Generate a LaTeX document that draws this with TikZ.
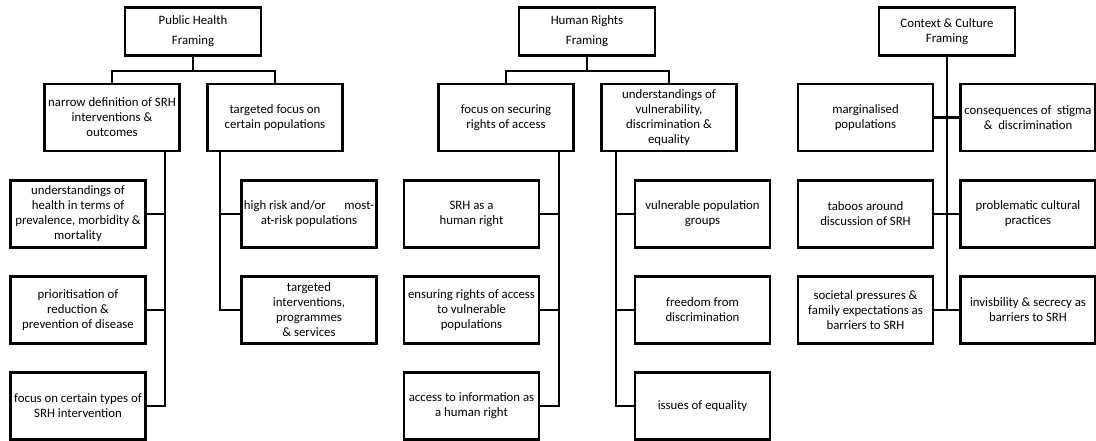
\documentclass[tikz,border=0pt]{standalone}
\usepackage{fontspec}
\setmainfont{Carlito}
\usepackage{tikz}
\usetikzlibrary{positioning,calc}

\begin{document}
\begin{tikzpicture}[x=1pt,y=-1pt,
  frame/.style={draw,line width=2.4pt,minimum width=135pt,minimum height=67pt,
    align=center,inner sep=0pt,font=\fontsize{12.8}{15}\selectfont},
  topframe/.style={frame,minimum width=136pt,minimum height=48pt},
  link/.style={line width=2.2pt}]
\useasboundingbox (0,0) rectangle (1096,441);

% Public Health framing
\node[topframe] (ph) at (193,31.5) {Public Health\\[5pt]Framing};
\node[frame] (ph1) at (112,117.5) {narrow definition of SRH\\interventions \&\\outcomes};
\node[frame] (ph2) at (275,117.5) {targeted focus on\\certain populations};
\node[frame] (ph11) at (78,214) {understandings of\\health in terms of\\prevalence, morbidity \&\\mortality};
\node[frame] (ph12) at (78,310) {prioritisation of\\reduction \&\\prevention of disease};
\node[frame] (ph13) at (78,406) {focus on certain types of\\SRH intervention};
\node[frame] (ph21) at (309,214) {high risk and/or\quad\ \ most-\\at-risk populations};
\node[frame] (ph22) at (309,310) {targeted\\interventions,\\programmes\\\& services};

% Human Rights framing
\node[topframe] (hr) at (587,31.5) {Human Rights\\[5pt]Framing};
\node[frame] (hr1) at (506,117.5) {focus on securing\\rights of access};
\node[frame] (hr2) at (669,117.5) {understandings of\\vulnerability,\\discrimination \&\\equality};
\node[frame] (hr11) at (471.5,214) {SRH as a\\human right};
\node[frame] (hr12) at (471.5,310) {ensuring rights of access\\to vulnerable\\populations};
\node[frame] (hr13) at (471.5,406) {access to information as\\a human right};
\node[frame] (hr21) at (702.5,214) {vulnerable population\\groups};
\node[frame] (hr22) at (702.5,310) {freedom from\\discrimination};
\node[frame] (hr23) at (702.5,406) {issues of equality};

% Context & Culture framing
\node[topframe] (cc) at (947,31.5) {Context \& Culture\\Framing};
\node[frame] (ccl1) at (865.5,117.5) {marginalised\\populations};
\node[frame] (ccr1) at (1028,117.5) {consequences of\ \ stigma\\\&\ \ discrimination};
\node[frame] (ccl2) at (865.5,214) {taboos around\\discussion of SRH};
\node[frame] (ccr2) at (1028,214) {problematic cultural\\practices};
\node[frame] (ccl3) at (865.5,310) {societal pressures \&\\family expectations as\\barriers to SRH};
\node[frame] (ccr3) at (1028,310) {invisbility \& secrecy as\\barriers to SRH};

% Junctions
\coordinate (phbar) at (193,71);
\coordinate (hrbar) at (587,71);
\coordinate (phbusA) at (165,406);
\coordinate (phbusB) at (220,310);
\coordinate (hrbusA) at (559,406);
\coordinate (hrbusB) at (616,406);

% Top level links
\draw[link] (ph.south) -- (phbar);
\draw[link] (ph1.north) |- (phbar) -| (ph2.north);
\draw[link] (hr.south) -- (hrbar);
\draw[link] (hr1.north) |- (hrbar) -| (hr2.north);

% Branches down to the leaves
\draw[link] (ph1.south -| phbusA) |- (ph13.east);
\foreach \n in {ph11,ph12}
    \draw[link] (\n.east) -- (\n.east -| phbusA);
\draw[link] (ph2.south -| phbusB) |- (ph22.west);
\draw[link] (ph21.west) -- (ph21.west -| phbusB);

\draw[link] (hr1.south -| hrbusA) |- (hr13.east);
\foreach \n in {hr11,hr12}
    \draw[link] (\n.east) -- (\n.east -| hrbusA);
\draw[link] (hr2.south -| hrbusB) |- (hr23.west);
\foreach \n in {hr21,hr22}
    \draw[link] (\n.west) -- (\n.west -| hrbusB);

% Context & Culture spine
\draw[link] (cc.south) -- (cc.south |- ccl3.east);
\foreach \i in {1,2,3}
    \draw[link] (ccl\i.east) -- (ccr\i.west);
\end{tikzpicture}
\end{document}
